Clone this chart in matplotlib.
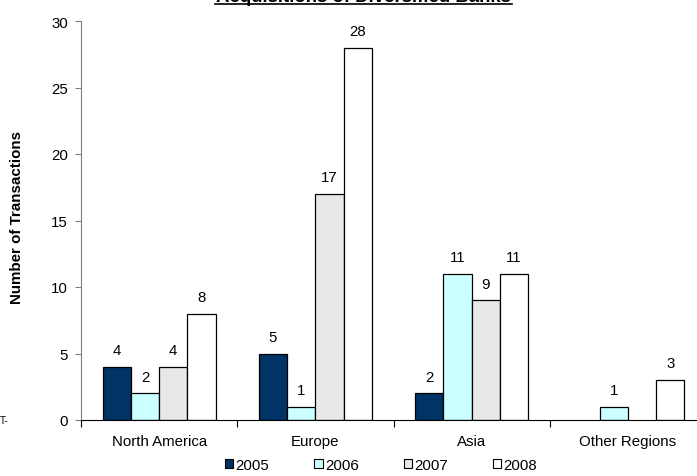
import matplotlib
matplotlib.use("Agg")
import matplotlib.pyplot as plt
import numpy as np
from matplotlib.patches import Patch
from matplotlib.lines import Line2D

plt.rcParams['font.family'] = ['Liberation Sans', 'DejaVu Sans']

regions = ["North America", "Europe", "Asia", "Other Regions"]
years = ["2005", "2006", "2007", "2008"]
deals_2005 = [4, 5, 2, 0]
deals_2006 = [2, 1, 11, 1]
deals_2007 = [4, 17, 9, 0]
deals_2008 = [8, 28, 11, 3]
series = [deals_2005, deals_2006, deals_2007, deals_2008]
colors = ["#003366", "#CCFFFF", "#E8E8E8", "#FFFFFF"]

FS = 10.8
W, H = 697, 477
fig = plt.figure(figsize=(W / 100, H / 100), dpi=100)
ax = fig.add_axes([81 / W, (H - 421) / H, (706 - 81) / W, (421 - 22) / H])

x = np.arange(len(regions))
bw = 0.181
for i, (vals, c) in enumerate(zip(series, colors)):
    pos = x + (i - 1.5) * bw
    for p, v in zip(pos, vals):
        if v == 0:
            continue
        ax.bar(p, v, width=bw, color=c, edgecolor="black", linewidth=0.9, zorder=2)
        ax.annotate(str(v), (p, v), xytext=(0, 7), textcoords="offset points",
                    ha="center", va="bottom", fontsize=FS)

ax.set_xlim(-0.5, len(regions) - 0.5)
ax.set_ylim(0, 30)
ax.set_yticks(np.arange(0, 31, 5))
ax.tick_params(axis="y", labelsize=FS, length=4, color="#808080", pad=5.5)

# category boundaries as tick marks, labels centred in each category
ax.set_xticks(np.arange(-0.5, len(regions), 1.0))
ax.set_xticklabels([])
ax.set_xticks(x, minor=True)
ax.set_xticklabels(regions, minor=True, fontsize=FS)
ax.tick_params(axis="x", which="major", length=5, color="black", direction="out")
ax.tick_params(axis="x", which="minor", length=0, pad=10)

for s in ["top", "right"]:
    ax.spines[s].set_visible(False)
ax.spines["left"].set_color("#808080")
ax.spines["bottom"].set_color("black")

fig.text(17 / W, (H - 218) / H, "Number of Transactions", rotation=90,
         ha="center", va="center", fontsize=10.9, fontweight="bold")

# small clipped note fragment at the left edge
fig.text(0, (H - 421) / H, "T-", ha="left", va="center", fontsize=7)

# title sitting at the very top, with underline
title_x0, title_x1 = 215, 512
fig.text((title_x0 + title_x1) / 2 / W, 1 - 1.5 / H, "Acquisitions of Diversified Banks",
         ha="center", va="baseline", fontsize=13.4, fontweight="bold")
fig.add_artist(Line2D([title_x0 / W, title_x1 / W], [1 - 4.5 / H, 1 - 4.5 / H],
                      color="black", linewidth=1.2, transform=fig.transFigure))

handles = [Patch(facecolor=c, edgecolor="black", linewidth=0.8) for c in colors]
fig.legend(handles, years, loc="center", bbox_to_anchor=(381 / W, (H - 466) / H),
           ncol=4, frameon=False, fontsize=FS, handlelength=0.55, handleheight=0.6,
           handletextpad=0.15, columnspacing=3.0, borderaxespad=0)

fig.savefig("out.png", dpi=100)
